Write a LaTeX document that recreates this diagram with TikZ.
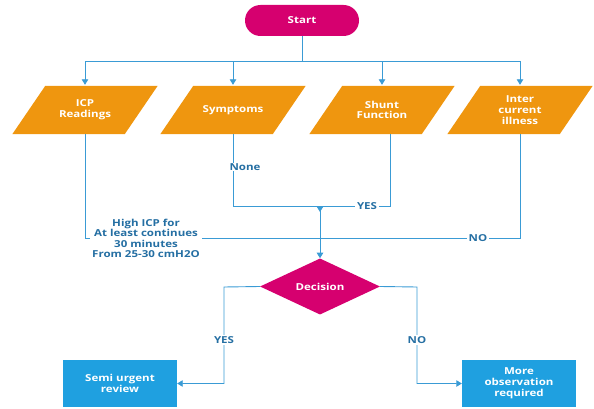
\documentclass[tikz,border=0pt]{standalone}
\usepackage{fontspec}
\setmainfont{Open Sans}[FakeStretch=1.2]
\usetikzlibrary{shapes.geometric,arrows.meta,backgrounds,calc}
\definecolor{magc}{HTML}{D6006F}
\definecolor{orac}{HTML}{EF960F}
\definecolor{bluec}{HTML}{1FA0E0}
\definecolor{linec}{HTML}{3A9BD5}
\definecolor{labc}{HTML}{256FA3}
\newcommand\parafill[1]{%
  \begin{scope}[on background layer]
    \fill[orac] ([xshift=-16.5pt]#1.south west) -- ([xshift=16.5pt]#1.north west)
      -- ([xshift=16.5pt]#1.north east) -- ([xshift=-16.5pt]#1.south east) -- cycle;
  \end{scope}}
\tikzset{
  txt/.style={font=\bfseries\fontsize{9.6}{10.8}\selectfont, text=white, align=center},
  startbox/.style={txt, fill=magc, rounded corners=15.5pt, minimum width=114pt, minimum height=31pt, inner sep=0pt},
  parabox/.style={txt, minimum width=112pt, minimum height=48pt, inner sep=0pt},
  decbox/.style={txt, diamond, fill=magc, minimum width=120pt, minimum height=47pt, inner sep=0pt},
  outbox/.style={txt, fill=bluec, minimum width=114pt, minimum height=47pt, inner sep=0pt},
  conn/.style={draw=linec, line width=0.9pt},
  arr/.style={conn, -{Triangle[width=6.5pt,length=5.5pt]}},
  lab/.style={font=\bfseries\fontsize{9.6}{10.3}\selectfont, text=labc, fill=white, inner xsep=2pt, inner ysep=1pt, align=center},
}
\begin{document}
\begin{tikzpicture}[x=1pt,y=-1pt]
\useasboundingbox (0,0) rectangle (594,409);
% nodes
\node[startbox] (start) at (302,20.5) {Start};
\node[parabox] (icp) at (85,110) {ICP\\Readings};
\node[parabox] (sym) at (233,110) {Symptoms};
\node[parabox] (shunt) at (382,110) {Shunt\\Function};
\node[parabox] (inter) at (520,110) {Inter\\current\\illness};
\parafill{icp}\parafill{sym}\parafill{shunt}\parafill{inter}
\node[decbox] (dec) at (320,286.5) {Decision};
\node[outbox] (semi) at (120,383.5) {Semi urgent\\review};
\node[outbox] (more) at (519,383.5) {More\\observation\\required};
% junction coordinates
\coordinate (top) at (302,61);
\coordinate (j1) at (320,206);
\coordinate (j1b) at (320,212);
\coordinate (j2) at (320,238);
\coordinate (ly) at (224,287);
\coordinate (ln) at (417,287);
% start to inputs
\draw[conn] (start.south) -- (top);
\draw[arr] (top) -| ([yshift=1pt]icp.north);
\draw[arr] (top) -| ([yshift=1pt]sym.north);
\draw[arr] (top) -| ([yshift=1pt]shunt.north);
\draw[arr] (top) -| ([yshift=1pt]inter.north);
% inputs to junctions
\draw[conn] (sym.south) |- (j1);
\draw[conn] ([xshift=8pt]shunt.south) |- (j1);
\draw[conn] (icp.south) |- (j2);
\draw[conn] (inter.south) |- (j2);
\draw[arr] (j1) -- (j1b);
\draw[arr] (j1) -- (dec.north);
% labels on connectors
\node[lab] (none) at (245,167) {None};
\node[lab] (yes1) at (367,206) {YES};
\node[lab] (high) at (146,238.5) {High ICP for\\At least continues\\30 minutes\\From 25-30 cmH2O};
\node[lab] (no1) at (478,238) {NO};
% decision outputs
\draw[arr] (dec.west) -- (ly) |- (semi.east);
\draw[arr] (dec.east) -- (ln) |- (more.west);
\node[lab] (yes2) at (224,340) {YES};
\node[lab] (no2) at (417,340) {NO};
\end{tikzpicture}
\end{document}
